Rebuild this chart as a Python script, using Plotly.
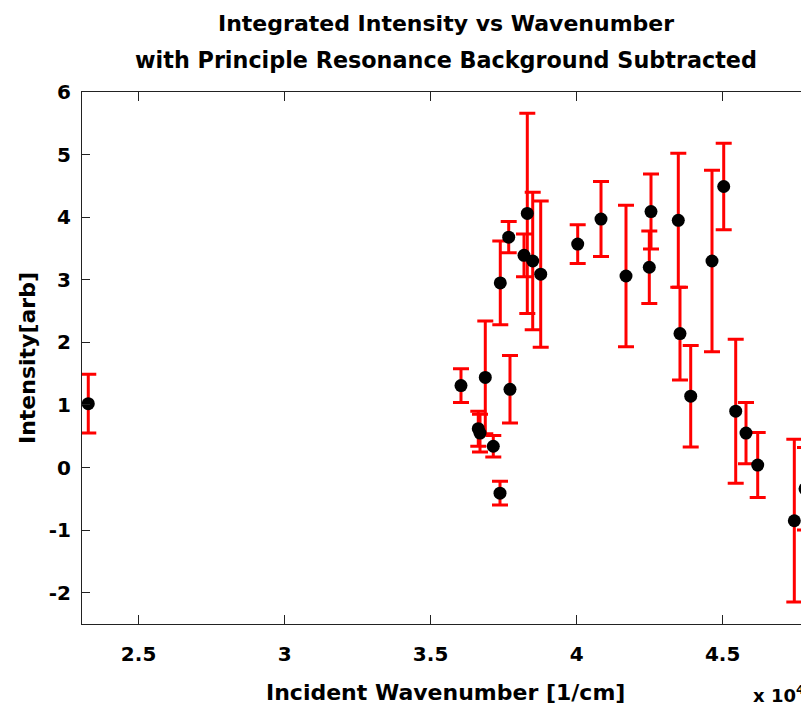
import plotly.graph_objects as go

# Data
wavenumber = [23277, 36041, 36633, 36692, 36873, 37147, 37377, 37387, 37675, 37719,
              38199, 38312, 38497, 38771, 40038, 40836, 41692, 42490, 42548, 43483,
              43541, 43908, 44637, 45038, 45449, 45802, 46202, 47456, 47822]
intensity = [1.02, 1.31, 0.62, 0.55, 1.44, 0.34, -0.41, 2.95, 3.68, 1.25,
             3.39, 4.06, 3.30, 3.09, 3.57, 3.97, 3.06, 3.20, 4.09, 3.95,
             2.14, 1.14, 3.30, 4.49, 0.90, 0.55, 0.04, -0.85, -0.34]
error = [0.47, 0.27, 0.28, 0.30, 0.90, 0.17, 0.19, 0.67, 0.25, 0.54,
         0.34, 1.60, 1.10, 1.17, 0.31, 0.60, 1.13, 0.58, 0.60, 1.07,
         0.74, 0.81, 1.45, 0.69, 1.15, 0.49, 0.52, 1.30, 0.66]

x_tickvals = [25000, 30000, 35000, 40000, 45000]
x_ticktext = ["2.5", "3", "3.5", "4", "4.5"]
y_tickvals = [-2, -1, 0, 1, 2, 3, 4, 5, 6]
y_ticktext = ["-2", "-1", "0", "1", "2", "3", "4", "5", "6"]

title_line1 = "Integrated Intensity vs Wavenumber"
title_line2 = "with Principle Resonance Background Subtracted"
x_label = "Incident Wavenumber [1/cm]"
y_label = "Intensity[arb]"

FONT = "DejaVu Sans"

fig = go.Figure()
fig.add_trace(go.Scatter(
    x=wavenumber, y=intensity, mode="markers",
    marker=dict(color="black", size=13, line=dict(width=0)),
    error_y=dict(type="data", array=error, visible=True, color="#ff0000",
                 thickness=3, width=8),
    showlegend=False,
))
# helper trace for the right-side tick marks
fig.add_trace(go.Scatter(x=[wavenumber[0]], y=[intensity[0]], yaxis="y2",
                         mode="markers", marker=dict(opacity=0),
                         showlegend=False, hoverinfo="skip"))

# page body has an 8px margin: figure is 801x701 so it fits the 809x717 window
fig.update_layout(
    width=801, height=701,
    margin=dict(l=74, r=0, t=84, b=85, autoexpand=False),
    paper_bgcolor="white", plot_bgcolor="white",
    font=dict(family=FONT, color="black", weight="bold"),
    xaxis=dict(range=[23062, 47959], tickvals=x_tickvals, ticktext=x_ticktext,
               ticks="inside", ticklen=9, tickwidth=1, tickcolor="#222",
               showline=True, linecolor="#222", linewidth=1, mirror="ticks",
               showgrid=False, zeroline=False, automargin=False,
               tickfont=dict(family=FONT, size=20, color="black", weight="bold"),
               ticklabelstandoff=12),
    yaxis=dict(range=[-2.5, 6], tickvals=y_tickvals, ticktext=y_ticktext,
               ticks="inside", ticklen=8, tickwidth=1, tickcolor="#222",
               showline=True, linecolor="#222", linewidth=1, mirror=False,
               showgrid=False, zeroline=False, automargin=False,
               tickfont=dict(family=FONT, size=20, color="black", weight="bold"),
               ticklabelstandoff=6),
    yaxis2=dict(range=[-2.5, 6], tickvals=y_tickvals, overlaying="y", side="right",
                ticks="inside", ticklen=8, tickwidth=1, tickcolor="#222",
                showticklabels=False, showline=False, showgrid=False, zeroline=False,
                automargin=False),
)

def ann(text, x, y, size, xanchor="center", yanchor="middle", angle=0):
    fig.add_annotation(text=text, x=x, y=y, xref="paper", yref="paper",
                       xanchor=xanchor, yanchor=yanchor, showarrow=False,
                       textangle=angle,
                       font=dict(family=FONT, size=size, color="black", weight="bold"))

# positions below are in screen pixels of the reference (plot area 82..809 x 92..624)
ann(title_line1, 0.5, (624 - 23) / 532, 22)
ann(title_line2, 0.5, (624 - 60) / 532, 22.3)
ann(x_label, 0.5, (624 - 692) / 532, 22)
ann(y_label, (27 - 82) / 727, 0.5, 22, angle=-90)
ann("x 10<sup>4</sup>", (807 - 82) / 727, (624 - 694) / 532, 18, xanchor="right")

fig.write_html("out.html")
